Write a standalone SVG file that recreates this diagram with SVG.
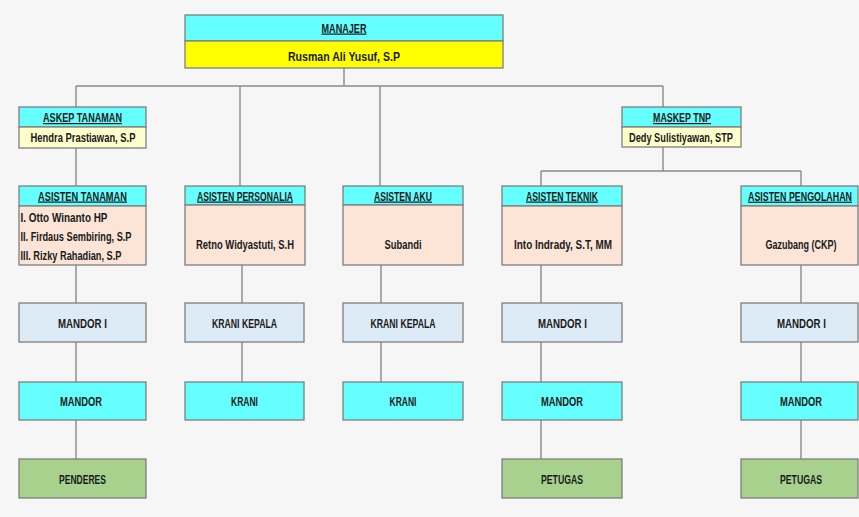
<svg xmlns="http://www.w3.org/2000/svg" width="859" height="517" viewBox="0 0 859 517">
<style>
  .bx{stroke:#7f7f7f;stroke-width:1.3}
  .cy{fill:#66ffff}
  .ye{fill:#ffff00}
  .ly{fill:#ffffcc}
  .pe{fill:#fce4d6}
  .lb{fill:#ddebf7}
  .gr{fill:#a9d18e}
  text{font-family:"Liberation Sans","Arial",sans-serif;font-weight:bold;fill:#1a1a1a;font-size:12.5px;text-anchor:middle}
  .h{font-size:12px;text-decoration:underline}
  .l{text-anchor:start}
  .c line{stroke:#8a8a8a;stroke-width:1.4}
</style>
<rect width="859" height="517" fill="#f6f6f6"/>
<g class="c" id="connectors">
  <line x1="344" y1="68" x2="344" y2="86"/>
  <line x1="76" y1="86" x2="663" y2="86"/>
  <line x1="76" y1="86" x2="76" y2="107"/>
  <line x1="240" y1="86" x2="240" y2="186"/>
  <line x1="380" y1="86" x2="380" y2="186"/>
  <line x1="663" y1="86" x2="663" y2="107"/>
  <line x1="76" y1="148" x2="76" y2="186"/>
  <line x1="663" y1="147" x2="663" y2="171"/>
  <line x1="541" y1="171" x2="801" y2="171"/>
  <line x1="541" y1="171" x2="541" y2="186"/>
  <line x1="801" y1="171" x2="801" y2="186"/>
  <line x1="76" y1="265" x2="76" y2="459"/>
  <line x1="242" y1="265" x2="242" y2="382"/>
  <line x1="381" y1="265" x2="381" y2="382"/>
  <line x1="541" y1="265" x2="541" y2="459"/>
  <line x1="801" y1="265" x2="801" y2="459"/>
</g>
<g id="manajer">
  <rect class="bx cy" x="185" y="15" width="318" height="26"/>
  <rect class="bx ye" x="185" y="41" width="318" height="27"/>
  <text class="h" x="344" y="32.5" textLength="45" lengthAdjust="spacingAndGlyphs">MANAJER</text>
  <text x="344" y="60.5" textLength="112" lengthAdjust="spacingAndGlyphs">Rusman Ali Yusuf, S.P</text>
</g>
<g id="askep-tanaman">
  <rect class="bx cy" x="19" y="107" width="127" height="20"/>
  <rect class="bx ly" x="19" y="127" width="127" height="21"/>
  <text class="h" x="82.5" y="122" textLength="79" lengthAdjust="spacingAndGlyphs">ASKEP TANAMAN</text>
  <text x="83" y="141.5" textLength="105" lengthAdjust="spacingAndGlyphs">Hendra Prastiawan, S.P</text>
</g>
<g id="maskep-tnp">
  <rect class="bx cy" x="622" y="107" width="119" height="20"/>
  <rect class="bx ly" x="622" y="127" width="119" height="20"/>
  <text class="h" x="682" y="122" textLength="58" lengthAdjust="spacingAndGlyphs">MASKEP TNP</text>
  <text x="681" y="141.5" textLength="104" lengthAdjust="spacingAndGlyphs">Dedy Sulistiyawan, STP</text>
</g>
<g id="asisten-tanaman">
  <rect class="bx cy" x="19" y="186" width="127" height="20"/>
  <rect class="bx pe" x="19" y="206" width="127" height="59"/>
  <text class="h" x="82.5" y="200.5" textLength="89" lengthAdjust="spacingAndGlyphs">ASISTEN TANAMAN</text>
  <text class="l" x="20.5" y="221.5" textLength="87" lengthAdjust="spacingAndGlyphs">I. Otto Winanto HP</text>
  <text class="l" x="20.5" y="240.5" textLength="111" lengthAdjust="spacingAndGlyphs">II. Firdaus Sembiring, S.P</text>
  <text class="l" x="20.5" y="259.5" textLength="101" lengthAdjust="spacingAndGlyphs">III. Rizky Rahadian, S.P</text>
</g>
<g id="asisten-personalia">
  <rect class="bx cy" x="185" y="186" width="120" height="19"/>
  <rect class="bx pe" x="185" y="205" width="120" height="60"/>
  <text class="h" x="245" y="200.5" textLength="96" lengthAdjust="spacingAndGlyphs">ASISTEN PERSONALIA</text>
  <text x="245" y="248.5" textLength="98" lengthAdjust="spacingAndGlyphs">Retno Widyastuti, S.H</text>
</g>
<g id="asisten-aku">
  <rect class="bx cy" x="343" y="186" width="120" height="19"/>
  <rect class="bx pe" x="343" y="205" width="120" height="60"/>
  <text class="h" x="403" y="200.5" textLength="58" lengthAdjust="spacingAndGlyphs">ASISTEN AKU</text>
  <text x="403" y="248.5" textLength="37" lengthAdjust="spacingAndGlyphs">Subandi</text>
</g>
<g id="asisten-teknik">
  <rect class="bx cy" x="502" y="186" width="120" height="20"/>
  <rect class="bx pe" x="502" y="206" width="120" height="59"/>
  <text class="h" x="562" y="200.5" textLength="72" lengthAdjust="spacingAndGlyphs">ASISTEN TEKNIK</text>
  <text x="563" y="248.5" textLength="98" lengthAdjust="spacingAndGlyphs">Into Indrady, S.T, MM</text>
</g>
<g id="asisten-pengolahan">
  <rect class="bx cy" x="741" y="186" width="117" height="20"/>
  <rect class="bx pe" x="741" y="206" width="117" height="59"/>
  <text class="h" x="0" y="0" transform="translate(800 200.5) scale(0.74 1)">ASISTEN PENGOLAHAN</text>
  <text x="0" y="0" transform="translate(801 248.5) scale(0.72 1)">Gazubang (CKP)</text>
</g>
<g id="mandor-i-1">
  <rect class="bx lb" x="19" y="303" width="127" height="39"/>
  <text x="82.5" y="327.5" textLength="49" lengthAdjust="spacingAndGlyphs">MANDOR I</text>
</g>
<g id="krani-kepala-1">
  <rect class="bx lb" x="185" y="303" width="119" height="39"/>
  <text x="244.5" y="327.5" textLength="65" lengthAdjust="spacingAndGlyphs">KRANI KEPALA</text>
</g>
<g id="krani-kepala-2">
  <rect class="bx lb" x="343" y="303" width="120" height="39"/>
  <text x="403" y="327.5" textLength="65" lengthAdjust="spacingAndGlyphs">KRANI KEPALA</text>
</g>
<g id="mandor-i-2">
  <rect class="bx lb" x="502" y="303" width="120" height="39"/>
  <text x="562.5" y="327.5" textLength="49" lengthAdjust="spacingAndGlyphs">MANDOR I</text>
</g>
<g id="mandor-i-3">
  <rect class="bx lb" x="741" y="303" width="117" height="39"/>
  <text x="801.5" y="327.5" textLength="49" lengthAdjust="spacingAndGlyphs">MANDOR I</text>
</g>
<g id="mandor-1">
  <rect class="bx cy" x="19" y="382" width="127" height="38"/>
  <text x="81" y="405.5" textLength="42" lengthAdjust="spacingAndGlyphs">MANDOR</text>
</g>
<g id="krani-1">
  <rect class="bx cy" x="185" y="382" width="119" height="38"/>
  <text x="244.5" y="405.5" textLength="27" lengthAdjust="spacingAndGlyphs">KRANI</text>
</g>
<g id="krani-2">
  <rect class="bx cy" x="343" y="382" width="120" height="38"/>
  <text x="403" y="405.5" textLength="27" lengthAdjust="spacingAndGlyphs">KRANI</text>
</g>
<g id="mandor-2">
  <rect class="bx cy" x="502" y="382" width="120" height="38"/>
  <text x="562" y="405.5" textLength="42" lengthAdjust="spacingAndGlyphs">MANDOR</text>
</g>
<g id="mandor-3">
  <rect class="bx cy" x="741" y="382" width="117" height="38"/>
  <text x="801" y="405.5" textLength="42" lengthAdjust="spacingAndGlyphs">MANDOR</text>
</g>
<g id="penderes">
  <rect class="bx gr" x="19" y="459" width="127" height="39"/>
  <text x="82.5" y="483.5" textLength="47" lengthAdjust="spacingAndGlyphs">PENDERES</text>
</g>
<g id="petugas-1">
  <rect class="bx gr" x="502" y="459" width="120" height="39"/>
  <text x="562" y="483.5" textLength="42" lengthAdjust="spacingAndGlyphs">PETUGAS</text>
</g>
<g id="petugas-2">
  <rect class="bx gr" x="741" y="459" width="117" height="39"/>
  <text x="801" y="483.5" textLength="42" lengthAdjust="spacingAndGlyphs">PETUGAS</text>
</g>
</svg>
